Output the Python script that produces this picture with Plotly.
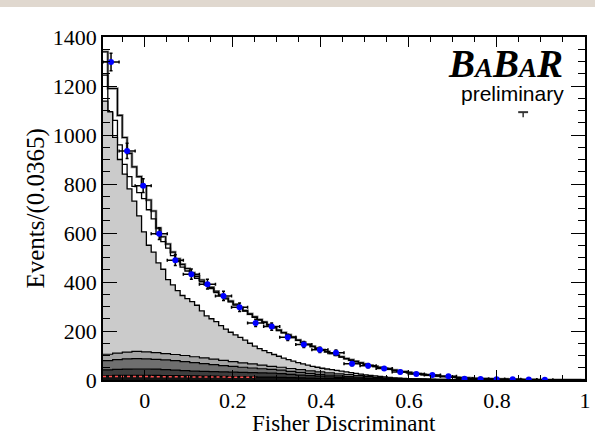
import numpy as np
import plotly.graph_objects as go

# ---------------- binning ----------------
x_lo, x_hi = -0.095, 1.0
data_bin_w = 0.0365          # data histogram bin width (30 bins)
layer_bin_w = 0.0219         # coarser binning of the small background layers

# ---------------- fit curves (100 fine bins, Events/0.0365) ----------------
total_fit = [1340, 1190, 1190, 1080, 990, 925, 870, 830, 790, 735,
             690, 620, 585, 555, 522, 495, 472, 455, 438, 423,
             408, 393, 378, 362, 348, 335, 322, 309, 296, 283,
             270, 258, 247, 237, 226, 215, 204, 194, 184, 175,
             163, 154, 146, 138, 130, 123, 116, 109, 102, 95,
             88, 82, 76, 70, 65, 60, 56, 52, 48, 45,
             41, 37, 34, 31, 28, 26, 23, 21, 19, 17,
             15, 14, 12, 11, 10, 9, 8, 7, 6, 5.5,
             5, 4.5, 4, 3.5, 3, 2.7, 2.4, 2.1, 1.8, 1.6,
             1.4, 1.2, 1.0, 0.9, 0.8, 0.7, 0.6, 0.5, 0.4, 0.3]

partial_fit = [1244, 1090, 1060, 960, 880, 830, 790, 765, 740, 695,
               658, 595, 565, 538, 508, 483, 461, 445, 429, 415,
               401, 387, 373, 357, 344, 331, 319, 306, 293, 281,
               268, 256, 245, 235, 224, 213, 202, 192, 182, 173,
               161.5, 152.5, 144.5, 136.5, 128.5, 121.5, 114.5, 107.5, 100.5, 93.5,
               86.5, 80.5, 74.5, 68.5, 63.5, 58.5, 54.5, 50.5, 46.5, 43.5,
               39.5, 35.5, 32.5, 29.5, 26.5, 24.5, 21.5, 19.5, 17.5, 15.5,
               13.5, 12.5, 10.5, 9.5, 8.5, 7.5, 6.5, 5.5, 4.5, 4,
               3.5, 3, 2.5, 2, 1.5, 1.2, 0.9, 0.6, 0.3, 0.1,
               0, 0, 0, 0, 0, 0, 0, 0, 0, 0]

continuum = [1138, 1095, 990, 900, 840, 780, 730, 670, 605, 550,
             522, 478, 452, 410, 388, 365, 345, 332, 320, 305,
             282, 262, 250, 238, 222, 208, 195, 184, 174, 163,
             150, 138, 128, 120, 112, 104, 97, 89, 83, 77,
             71, 66, 61, 56, 52, 48, 45, 42, 39, 36,
             33, 30, 27, 24, 21, 19, 17, 15, 13, 11,
             9, 8, 7, 6, 5, 4.5, 4, 3.5, 3, 2.7,
             2.4, 2.1, 1.9, 1.7, 1.5, 1.3, 1.2, 1.1, 1.0, 0.9,
             0.8, 0.7, 0.7, 0.6, 0.6, 0.5, 0.5, 0.4, 0.4, 0.4,
             0.3, 0.3, 0.3, 0.2, 0.2, 0.2, 0.2, 0.1, 0.1, 0.1]

# ---------------- stacked B-background layers (50 bins, cumulative tops) ----------------
bkg_layer4 = [105, 110, 114, 117, 115, 112, 108, 104, 100, 95,
              90, 85, 80, 75, 70, 66, 61, 56, 52, 47,
              42, 37, 33, 29, 25, 22, 18, 15, 11, 9,
              7, 5.5, 4.5, 3.5, 3, 2.5, 2, 1.6, 1.3, 1,
              0.8, 0.7, 0.6, 0.5, 0.4, 0.3, 0.3, 0.2, 0.2, 0.1]
bkg_layer3 = [79, 83, 86, 87, 86, 84, 82, 79, 75, 71,
              67, 63, 59, 56, 52, 49, 46, 43, 40, 35,
              31, 27, 23, 20, 17, 14, 12, 9, 7, 6,
              4.5, 3.5, 3, 2.5, 2, 1.6, 1.3, 1, 0.8, 0.6,
              0.5, 0.4, 0.4, 0.3, 0.3, 0.2, 0.2, 0.1, 0.1, 0.1]
bkg_layer2 = [41, 43, 44, 45, 45, 44, 42, 40, 38, 36,
              35, 34, 33, 32, 31, 30, 29, 28, 26, 23,
              20, 18, 16, 13, 11, 9, 7.5, 6, 5, 4,
              3, 2.5, 2, 1.6, 1.3, 1, 0.8, 0.6, 0.5, 0.4,
              0.3, 0.3, 0.2, 0.2, 0.2, 0.1, 0.1, 0.1, 0.1, 0.1]
bkg_layer1 = [18, 19, 19, 19, 19, 19, 18, 18, 17, 17,
              16, 16, 15, 14, 14, 13, 12, 12, 11, 10,
              9, 8, 7, 6, 5.5, 5, 4, 3.5, 3, 2.5,
              2, 1.6, 1.3, 1, 0.8, 0.6, 0.5, 0.4, 0.3, 0.3,
              0.2, 0.2, 0.2, 0.1, 0.1, 0.1, 0.1, 0.1, 0.1, 0.1]
red_component = [14, 14, 14, 14, 14, 13, 13, 13, 13, 12, 12, 12, 12, 11, 11, 11]

# ---------------- data ----------------
data_counts = [1298, 935, 793, 597, 489, 432, 391, 343, 297, 233,
               218, 174, 145, 123, 111, 66, 58, 47, 33, 24,
               20, 15, 5, 4, 3, 3, 2, 1]
data_err = [36, 31, 28, 24, 22, 21, 20, 19, 17, 15,
            15, 13, 12, 11, 11, 8, 8, 7, 6, 5,
            4.5, 4, 2.2, 2, 1.7, 1.7, 1.4, 1]


def step_xy(vals, lo, width):
    n = len(vals)
    edges = lo + width * np.arange(n + 1)
    y = list(vals) + [vals[-1]]
    return edges, y


fine_w = (x_hi - x_lo) / len(total_fit)

fig = go.Figure()

# total fit: gray shadow + black line
ex, ey = step_xy(total_fit, x_lo, fine_w)
fig.add_trace(go.Scatter(x=ex, y=ey, mode='lines',
                         line=dict(shape='hv', color='#8a8a8a', width=2.6), hoverinfo='skip'))
fig.add_trace(go.Scatter(x=ex, y=ey, mode='lines',
                         line=dict(shape='hv', color='black', width=1.1), hoverinfo='skip'))
ex, ey = step_xy(partial_fit, x_lo, fine_w)
fig.add_trace(go.Scatter(x=ex, y=ey, mode='lines',
                         line=dict(shape='hv', color='black', width=1.3), hoverinfo='skip'))
ex, ey = step_xy(continuum, x_lo, fine_w)
fig.add_trace(go.Scatter(x=ex, y=ey, mode='lines', fill='tozeroy', fillcolor='#cbcbcb',
                         line=dict(shape='hv', color='black', width=1.3), hoverinfo='skip'))

for vals, col in [(bkg_layer4, '#a4a4a4'), (bkg_layer3, '#6f6f6f'),
                  (bkg_layer2, '#3e3e3e'), (bkg_layer1, '#121212')]:
    ex, ey = step_xy(vals, x_lo, layer_bin_w)
    fig.add_trace(go.Scatter(x=ex, y=ey, mode='lines', fill='tozeroy', fillcolor=col,
                             line=dict(shape='hv', color='black', width=1.2), hoverinfo='skip'))

ex, ey = step_xy(red_component, x_lo, layer_bin_w)
fig.add_trace(go.Scatter(x=ex, y=ey, mode='lines',
                         line=dict(shape='hv', color='#ff5050', width=1.5, dash='dot'), hoverinfo='skip'))

data_x = x_lo + data_bin_w * (np.arange(len(data_counts)) + 0.5)
fig.add_trace(go.Scatter(
    x=data_x, y=data_counts, mode='markers',
    marker=dict(color='#0000ff', size=6),
    error_y=dict(type='data', array=data_err, color='black', thickness=1.5, width=1.5),
    error_x=dict(type='constant', value=data_bin_w / 2, color='black', thickness=1.5, width=1.5),
    hoverinfo='skip'))

axis_common = dict(showgrid=False, zeroline=False, showline=True, linecolor='black', linewidth=1.5,
                   ticks='inside', mirror='ticks', tickcolor='black', tickwidth=1,
                   tickfont=dict(family='Liberation Serif', size=22, color='black'))
fig.update_xaxes(range=[x_lo, x_hi], tick0=0, dtick=0.2, ticklen=10,
                 minor=dict(tick0=0, dtick=0.05, ticklen=5, ticks='inside', tickcolor='black', tickwidth=1),
                 **axis_common)
fig.update_yaxes(range=[0, 1400], tick0=0, dtick=200, ticklen=14,
                 minor=dict(tick0=0, dtick=50, ticklen=7, ticks='inside', tickcolor='black', tickwidth=1),
                 **axis_common)

fig.update_layout(
    width=595, height=444,
    margin=dict(l=103, r=4, t=37, b=64),
    plot_bgcolor='white', paper_bgcolor='white', showlegend=False,
    font=dict(family='Liberation Serif', size=22, color='black'),
    annotations=[
        dict(text='Fisher Discriminant', xref='paper', yref='paper', x=0.5, y=-0.127,
             xanchor='center', yanchor='middle', showarrow=False,
             font=dict(family='Liberation Serif', size=23, color='black')),
        dict(text='Events/(0.0365)', xref='paper', yref='paper', x=-0.141, y=0.5,
             xanchor='center', yanchor='middle', textangle=-90, showarrow=False,
             font=dict(family='Liberation Serif', size=25, color='black')),
        dict(text="<b><i>B<span style='font-size:27px'>A</span>B<span style='font-size:27px'>A</span>R</i></b>",
             xref='paper', yref='paper', x=0.958, y=0.922, xanchor='right', yanchor='middle',
             showarrow=False, font=dict(family='Liberation Serif', size=39, color='black')),
        dict(text='preliminary', xref='paper', yref='paper', x=0.96, y=0.835,
             xanchor='right', yanchor='middle', showarrow=False,
             font=dict(family='Liberation Sans', size=21, color='black')),
    ],
    shapes=[
        dict(type='rect', xref='paper', yref='paper', x0=-0.25, x1=1.05, y0=1.0873, y1=1.2,
             fillcolor='#e0d8cf', line=dict(width=0), layer='below'),
        dict(type='line', xref='paper', yref='paper', x0=0.8614, x1=0.8819, y0=0.7809, y1=0.7809,
             line=dict(color='#333333', width=2)),
        dict(type='line', xref='paper', yref='paper', x0=0.8717, x1=0.8717, y0=0.7809, y1=0.7663,
             line=dict(color='#333333', width=1.5)),
    ],
)

fig.write_html("out.html")
